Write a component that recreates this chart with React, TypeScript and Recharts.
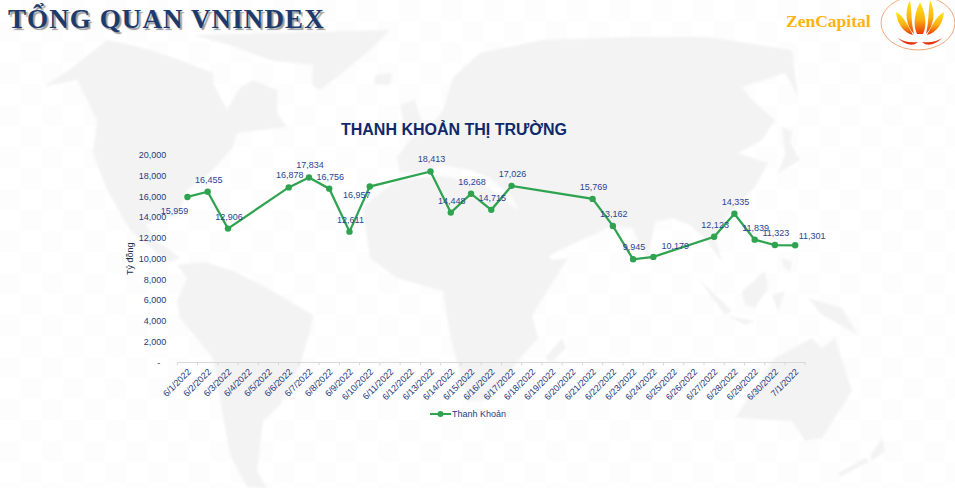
import React from "react";
import { LineChart, Line, XAxis, YAxis, Legend } from "recharts";

const dates = [
  "6/1/2022", "6/2/2022", "6/3/2022", "6/4/2022", "6/5/2022", "6/6/2022", "6/7/2022", "6/8/2022",
  "6/9/2022", "6/10/2022", "6/11/2022", "6/12/2022", "6/13/2022", "6/14/2022", "6/15/2022", "6/16/2022",
  "6/17/2022", "6/18/2022", "6/19/2022", "6/20/2022", "6/21/2022", "6/22/2022", "6/23/2022", "6/24/2022",
  "6/25/2022", "6/26/2022", "6/27/2022", "6/28/2022", "6/29/2022", "6/30/2022", "7/1/2022",
];
// null = market closed, the line just joins over these days
const liquidity = [
  15959, 16455, 12906, null, null, 16878, 17834, 16756,
  12611, 16957, null, null, 18413, 14448, 16268, 14715,
  17026, null, null, null, 15769, 13162, 9945, 10179,
  null, null, 12123, 14335, 11839, 11323, 11301,
];
const yTicks = [0, 2000, 4000, 6000, 8000, 10000, 12000, 14000, 16000, 18000, 20000];

const chartData = dates.map((date, i) => ({ date, value: liquidity[i] }));

const NAVY = "#1f3a7d";
const GREEN = "#2fa350";
const FONT = "'Liberation Sans', Arial, sans-serif";
const HALF_BAND = 10.13;

// labels that the original moved by hand, the rest sit above their point
const labelShift: Record<string, [number, number]> = {
  "6/1/2022": [-13, 14],
  "6/10/2022": [-13, 8],
  "6/24/2022": [22, -11],
  "7/1/2022": [17, -9],
};

function DataLabel({ x, y, value, index }: any) {
  if (value == null) return null;
  const [dx, dy] = labelShift[dates[index]] || [1, -12];
  return (
    <text x={x + dx} y={y + dy + 3} textAnchor="middle" fontSize={9} fontFamily={FONT} fill="#2a4496">
      {value.toLocaleString("en-US")}
    </text>
  );
}

function DateTick({ x, y, payload }: any) {
  const top = y - 8;
  const isLast = payload.value === dates[dates.length - 1];
  return (
    <g>
      <line x1={x - HALF_BAND} x2={x - HALF_BAND} y1={top} y2={top + 3} stroke="#d9d9d9" />
      {isLast && <line x1={x + HALF_BAND} x2={x + HALF_BAND} y1={top} y2={top + 3} stroke="#d9d9d9" />}
      <text
        x={0}
        y={0}
        transform={`translate(${x + 4},${top + 10}) rotate(-45)`}
        textAnchor="end"
        fontSize={9}
        fontFamily={FONT}
        fill={NAVY}
      >
        {payload.value}
      </text>
    </g>
  );
}

function ValueTick({ x, y, payload }: any) {
  const isZero = payload.value === 0;
  return (
    <text x={isZero ? x - 1 : x + 5} y={y + 3} textAnchor="end" fontSize={9} fontFamily={FONT} fill={NAVY}>
      {isZero ? "-" : payload.value.toLocaleString("en-US")}
    </text>
  );
}

function LegendRow() {
  return (
    <div style={{ display: "flex", alignItems: "center", fontFamily: FONT, fontSize: 9, color: NAVY }}>
      <svg width={22} height={8}>
        <line x1={0} x2={21} y1={4} y2={4} stroke={GREEN} strokeWidth={2} />
        <circle cx={10.5} cy={4} r={3} fill={GREEN} />
      </svg>
      Thanh Khoản
    </div>
  );
}

// faint world map behind the chart
const land = [
  "M43,87 L73,67 L107,40 L140,47 L180,60 L213,73 L213,83 L227,110 L240,88 L253,80 L277,90 L277,113 L287,127 L262,130 L237,133 L233,147 L213,170 L187,190 L177,217 L157,217 L146,224 L155,240 L170,250 L180,258 L170,262 L157,253 L130,230 L107,190 L93,153 L97,120 L77,80 Z",
  "M177,265 L205,262 L233,271 L267,288 L313,315 L310,331 L300,365 L280,405 L263,421 L257,471 L267,488 L247,487 L230,455 L220,398 L213,358 L180,318 L177,301 L187,278 Z",
  "M193,35 L390,30 L370,50 L340,75 L320,90 L312,85 L313,65 L270,60 L230,45 Z",
  "M397,157 L410,140 L430,127 L443,110 L453,77 L480,53 L542,40 L632,37 L708,37 L792,50 L798,97 L785,73 L742,87 L752,100 L775,120 L762,140 L738,153 L768,163 L755,187 L728,215 L715,237 L722,262 L706,240 L690,225 L672,218 L655,222 L648,258 L632,228 L612,226 L588,237 L560,250 L542,260 L518,210 L512,197 L490,178 L470,170 L440,165 L425,172 L400,172 Z",
  "M363,210 L367,203 L397,180 L440,176 L480,182 L518,210 L552,260 L568,258 L532,315 L538,338 L518,361 L490,400 L467,401 L450,335 L443,291 L397,278 L370,258 Z",
  "M562,338 L566,348 L552,362 L545,358 Z",
  "M735,418 L775,358 L812,338 L822,348 L835,338 L852,391 L822,438 L805,441 L792,421 Z",
  "M882,438 L885,451 L872,461 L870,456 Z M865,458 L870,461 L840,477 L838,473 Z",
  "M808,298 L842,308 L858,335 L822,315 Z",
  "M742,291 L765,271 L768,288 L755,308 L745,305 Z",
  "M698,278 L732,311 L725,315 Z",
  "M728,316 L755,321 L745,325 Z",
  "M772,295 L785,291 L778,311 Z",
  "M782,127 L792,132 L790,142 L800,160 L778,173 L785,155 Z",
  "M782,258 L792,262 L790,272 L784,268 Z",
  "M375,75 L392,73 L390,85 L374,84 Z",
  "M400,105 L415,100 L422,122 L405,130 Z",
];

export default function App() {
  return (
    <div
      style={{
        position: "absolute",
        left: 0,
        top: 0,
        width: 955,
        height: 488,
        overflow: "hidden",
        background: "repeating-conic-gradient(#fdfdfd 0 25%, #ffffff 0 50%) 0 0 / 42px 42px",
      }}
    >
      <svg width={955} height={488} style={{ position: "absolute", left: 0, top: 0, filter: "blur(1px)" }}>
        {land.map((d, i) => (
          <path key={i} d={d} fill="#f3f3f3" />
        ))}
      </svg>

      {/* heading */}
      <div
        style={{
          position: "absolute",
          left: 8,
          top: 4,
          fontFamily: "'Liberation Serif', serif",
          fontWeight: 700,
          fontSize: 27,
          letterSpacing: 1.1,
          whiteSpace: "nowrap",
          color: "#1d3a6e",
          textShadow: "2px 2px 1px #9a9a9a",
        }}
      >
        TỔNG QUAN VNINDEX
      </div>

      {/* logo */}
      <div
        style={{
          position: "absolute",
          left: 786,
          top: 11,
          fontFamily: "'Liberation Serif', serif",
          fontWeight: 700,
          fontSize: 17.5,
          color: "#ffb30f",
        }}
      >
        ZenCapital
      </div>
      <svg width={75} height={52} style={{ position: "absolute", left: 880, top: 0 }}>
        <defs>
          <linearGradient id="flame" x1="0" y1="0" x2="0" y2="1">
            <stop offset="0" stopColor="#ffe81a" />
            <stop offset="0.55" stopColor="#fdb011" />
            <stop offset="1" stopColor="#e8380c" />
          </linearGradient>
        </defs>
        <ellipse cx={38} cy={23} rx={37} ry={27} fill="#fff" stroke="#f2a878" strokeWidth={1} />
        <path d="M40,2 C34,14 33,26 37,34 L43,34 C47,26 46,14 40,2 Z" fill="url(#flame)" />
        <path d="M30,0 C24,12 26,26 34,34 C31,22 32,12 30,0 Z" fill="url(#flame)" />
        <path d="M50,0 C56,12 54,26 46,34 C49,22 48,12 50,0 Z" fill="url(#flame)" />
        <path d="M16,12 C17,24 24,33 33,35 C28,26 24,16 16,12 Z" fill="url(#flame)" />
        <path d="M64,12 C63,24 56,33 47,35 C52,26 56,16 64,12 Z" fill="url(#flame)" />
        <path d="M18,38 C26,46 34,46 38,42 C30,43 24,42 18,38 Z" fill="#e8320c" />
        <path d="M62,38 C54,46 46,46 42,42 C50,43 56,42 62,38 Z" fill="#e8320c" />
      </svg>

      {/* chart title */}
      <div
        style={{
          position: "absolute",
          left: 254,
          top: 121,
          width: 400,
          textAlign: "center",
          fontFamily: FONT,
          fontWeight: 700,
          fontSize: 16,
          color: "#10296b",
        }}
      >
        THANH KHOẢN THỊ TRƯỜNG
      </div>

      <div style={{ position: "absolute", left: 0, top: 0 }}>
        <LineChart
          width={955}
          height={488}
          data={chartData}
          margin={{ left: 117.3, right: 149.7, top: 155, bottom: 65.5 }}
        >
          <XAxis
            dataKey="date"
            interval={0}
            height={60}
            padding={{ left: HALF_BAND, right: HALF_BAND }}
            axisLine={{ stroke: "#d9d9d9" }}
            tickLine={false}
            tick={<DateTick />}
          />
          <YAxis
            width={60}
            domain={[0, 20000]}
            ticks={yTicks}
            interval={0}
            axisLine={false}
            tickLine={false}
            tickMargin={10}
            tick={<ValueTick />}
            label={{
              value: "Tỷ đồng",
              angle: -90,
              position: "insideLeft",
              dx: 8,
              style: { fontFamily: FONT, fontSize: 9, fill: "#222f55", textAnchor: "middle" },
            }}
          />
          <Legend
            layout="horizontal"
            verticalAlign="middle"
            align="center"
            content={<LegendRow />}
            wrapperStyle={{ left: 430, top: 409, width: 100 }}
          />
          <Line
            dataKey="value"
            name="Thanh Khoản"
            stroke={GREEN}
            strokeWidth={2.25}
            connectNulls
            dot={{ r: 3.2, fill: GREEN, stroke: "none" }}
            label={<DataLabel />}
            isAnimationActive={false}
          />
        </LineChart>
      </div>
    </div>
  );
}
